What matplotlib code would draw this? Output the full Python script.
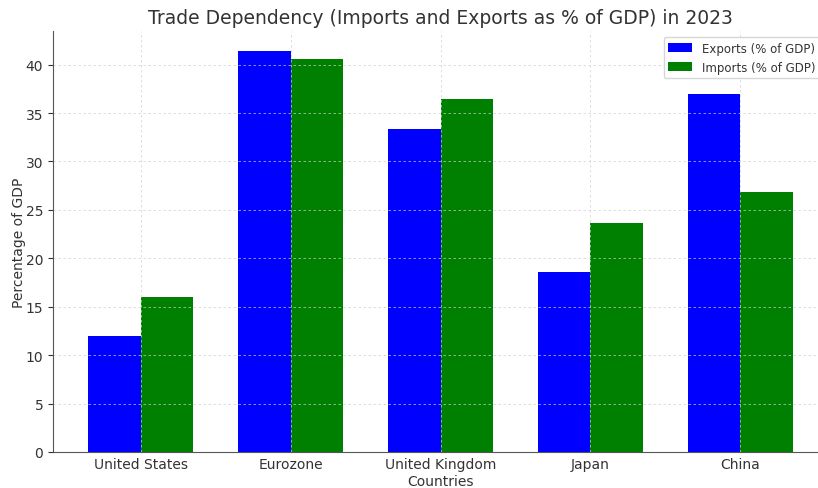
import matplotlib
matplotlib.use("Agg")
import matplotlib.pyplot as plt
import numpy as np

countries = ["United States", "Eurozone", "United Kingdom", "Japan", "China"]
exports = [12.0, 41.4, 33.4, 18.6, 37.0]
imports = [16.0, 40.6, 36.5, 23.6, 26.8]

plt.rcParams['font.family'] = ['DejaVu Sans']
text_color = '#333333'

fig = plt.figure(figsize=(8.18, 4.89), dpi=100)
ax = fig.add_axes([53/818, (489-453)/489, (828-53)/818, (453-32)/489])

x = np.arange(len(countries))
w = 0.35
ax.bar(x - w/2, exports, w, color='blue', label='Exports (% of GDP)', zorder=1)
ax.bar(x + w/2, imports, w, color='green', label='Imports (% of GDP)', zorder=1)

ax.set_xticks(x)
ax.set_xticklabels(countries)
ax.set_axisbelow(False)
ax.grid(True, linestyle=(0, (3, 3)), color='#cfcfcf', linewidth=0.6, alpha=0.8, zorder=3)
for s in ['top', 'right']:
    ax.spines[s].set_visible(False)
for s in ['left', 'bottom']:
    ax.spines[s].set_color('#555555')
ax.tick_params(colors=text_color, labelsize=10)
ax.tick_params(axis='x', length=0)
ax.set_xlabel('Countries', color=text_color, fontsize=10, labelpad=2)
ax.set_ylabel('Percentage of GDP', color=text_color, fontsize=10, labelpad=-0.5)
ax.set_title('Trade Dependency (Imports and Exports as % of GDP) in 2023', color=text_color, fontsize=13.5, pad=6)
leg = ax.legend(loc='upper right', fontsize=8.5, bbox_to_anchor=(0.997, 1.0))
for t in leg.get_texts():
    t.set_color(text_color)

fig.savefig('out.png', dpi=100)
